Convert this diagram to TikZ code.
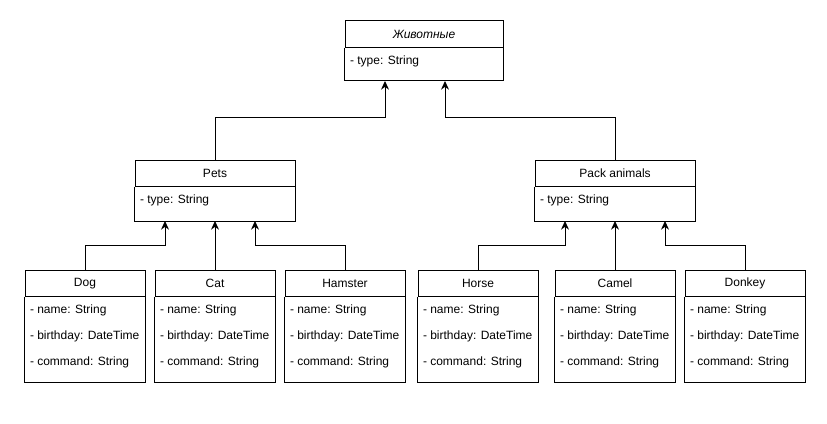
\documentclass[tikz,border=0pt]{standalone}
\usepackage{fontspec}
\setmainfont{Liberation Sans}
\usetikzlibrary{positioning,calc,arrows.meta}

\tikzset{
  head/.style={draw, anchor=north, minimum width=#1, minimum height=19.5pt, inner sep=0pt},
  body/.style={anchor=north, minimum width=#1, inner sep=0pt},
  attr/.style={anchor=west, inner sep=0pt},
  arr/.style={-{Stealth[length=6.5pt,width=6pt]}}
}

\begin{document}
\begin{tikzpicture}[x=0.75pt,y=-0.75pt,line width=0.75pt,font=\fontsize{9pt}{11pt}\selectfont]
      \useasboundingbox (0,0) rectangle (827,424);
      % top class
      \node[head=118.5pt,minimum height=20.25pt] (animals) at (424,20) {\itshape Животные};
      \node[body=118.5pt,minimum height=24pt,below=0pt of animals] (animalsb) {};
      \node[attr] (animals-type) at ($(animalsb.north west)+(5,13)$) {- type: String};
      % middle classes
      \node[head=120pt] (pets) at (215,160) {Pets};
      \node[body=120pt,minimum height=24.75pt,below=0pt of pets] (petsb) {};
      \node[attr] (pets-type) at ($(petsb.north west)+(5,13)$) {- type: String};
      \node[head=120pt] (pack) at (615,160) {Pack animals};
      \node[body=120pt,minimum height=24.75pt,below=0pt of pack] (packb) {};
      \node[attr] (pack-type) at ($(packb.north west)+(5,13)$) {- type: String};
      \foreach \n in {animals,pets,pack}
        \draw (\n.south west) |- (\n b.south east) -- (\n.south east);
      % leaf classes
      \node[head=90pt] (dog) at (85,270) {Dog};
      \node[head=90pt] (cat) at (215,270) {Cat};
      \node[head=90pt] (hamster) at (345,270) {Hamster};
      \node[head=90pt] (horse) at (478,270) {Horse};
      \node[head=90pt] (camel) at (615,270) {Camel};
      \node[head=90pt] (donkey) at (745,270) {Donkey};
      \foreach \n in {dog,cat,hamster,horse,camel,donkey} {
        \node[body=90pt,minimum height=63pt,below=0pt of \n] (\n b) {};
        \draw (\n.south west) |- (\n b.south east) -- (\n.south east);
        \node[attr] (\n-name) at ($(\n b.north west)+(5,13)$) {- name: String};
        \node[attr] (\n-birthday) at ($(\n b.north west)+(5,39)$) {- birthday: DateTime};
        \node[attr] (\n-command) at ($(\n b.north west)+(5,65)$) {- command: String};
      }
      % arrow ends
      \coordinate (animals-l) at ($(animalsb.south)+(-39,0)$);
      \coordinate (animals-r) at ($(animalsb.south)+(21,0)$);
      \coordinate (pets-l) at ($(petsb.south)+(-50,0)$);
      \coordinate (pets-r) at ($(petsb.south)+(40,0)$);
      \coordinate (pack-l) at ($(packb.south)+(-50,0)$);
      \coordinate (pack-r) at ($(packb.south)+(50,0)$);
      % connectors
      \draw[arr] (pets.north) -- ++(0,-42) -| (animals-l);
      \draw[arr] (pack.north) -- ++(0,-42) -| (animals-r);
      \draw[arr] (dog.north) -- ++(0,-25) -| (pets-l);
      \draw[arr] (cat.north) -- (petsb.south);
      \draw[arr] (hamster.north) -- ++(0,-25) -| (pets-r);
      \draw[arr] (horse.north) -- ++(0,-25) -| (pack-l);
      \draw[arr] (camel.north) -- (packb.south);
      \draw[arr] (donkey.north) -- ++(0,-25) -| (pack-r);
  \end{tikzpicture}
\end{document}
